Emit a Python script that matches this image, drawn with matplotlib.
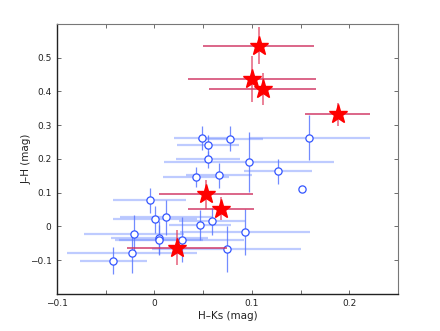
import numpy as np
import matplotlib
matplotlib.use("Agg")
import matplotlib.pyplot as plt
import matplotlib.ticker as mticker

plt.rcParams['font.family'] = 'DejaVu Sans'

# field stars (open circles): H-Ks, J-H and their errors
field_hk = [0.049, 0.078, 0.055, 0.055, 0.097, 0.159, 0.127, 0.151, 0.066, 0.043,
            -0.005, 0.001, 0.012, 0.047, 0.059, -0.021, 0.005, 0.005, 0.028, 0.093,
            0.074, -0.023, -0.042]
field_jh = [0.263, 0.260, 0.242, 0.199, 0.191, 0.263, 0.163, 0.112, 0.151, 0.147,
            0.077, 0.021, 0.027, 0.005, 0.015, -0.022, -0.033, -0.041, -0.039, -0.017,
            -0.066, -0.079, -0.102]
field_hk_err = [0.029, 0.033, 0.032, 0.033, 0.087, 0.062, 0.035, 0.0, 0.034, 0.034,
                0.037, 0.043, 0.047, 0.032, 0.034, 0.051, 0.050, 0.045, 0.064, 0.067,
                0.076, 0.067, 0.034]
field_jh_err = [0.035, 0.037, 0.030, 0.026, 0.088, 0.067, 0.037, 0.0, 0.038, 0.030,
                0.038, 0.040, 0.051, 0.044, 0.039, 0.057, 0.050, 0.044, 0.067, 0.068,
                0.068, 0.060, 0.040]

# target stars (red stars)
target_hk = [0.107, 0.100, 0.111, 0.188, 0.053, 0.068, 0.023]
target_jh = [0.535, 0.438, 0.407, 0.332, 0.095, 0.052, -0.063]
target_hk_err = [0.057, 0.066, 0.055, 0.033, 0.048, 0.034, 0.051]
target_jh_err = [0.055, 0.068, 0.048, 0.034, 0.044, 0.034, 0.052]

fig = plt.figure(figsize=(4.4, 3.31), dpi=100)
ax = fig.add_axes([0.1295, 0.112, 0.775, 0.8155])

# field stars: light wide horizontal bars, thinner vertical bars
ax.errorbar(field_hk, field_jh, xerr=field_hk_err, fmt='none',
            ecolor='#6f8cff', elinewidth=1.6, alpha=0.45, capsize=0, zorder=2)
ax.errorbar(field_hk, field_jh, yerr=field_jh_err, fmt='none',
            ecolor='#5a78ff', elinewidth=0.9, alpha=0.85, capsize=0, zorder=2)
ax.plot(field_hk, field_jh, 'o', ms=5.2, mfc='white', mec='#3355ff', mew=0.9, zorder=3)

# target stars
ax.errorbar(target_hk, target_jh, xerr=target_hk_err, fmt='none',
            ecolor='#d03060', elinewidth=1.3, alpha=0.8, capsize=0, zorder=4)
ax.errorbar(target_hk, target_jh, yerr=target_jh_err, fmt='none',
            ecolor='#e04060', elinewidth=1.3, alpha=0.7, capsize=0, zorder=4)
ax.plot(target_hk, target_jh, '*', ms=14, color='red', mec='red', zorder=5)

ax.set_xlim(-0.1, 0.25)
ax.set_ylim(-0.2, 0.6)
ax.set_xticks([-0.1, 0, 0.1, 0.2])
ax.xaxis.set_minor_locator(mticker.MultipleLocator(0.05))
ax.set_yticks([-0.1, 0, 0.1, 0.2, 0.3, 0.4, 0.5])
fmt = mticker.FuncFormatter(lambda v, _: '0' if abs(v) < 1e-9 else f'{v:g}'.replace('-', '\u2212'))
ax.xaxis.set_major_formatter(fmt)
ax.yaxis.set_major_formatter(fmt)
ax.tick_params(which='both', direction='in', top=True, right=True, length=3,
               width=0.6, labelsize=6.5, colors='#555555', labelcolor='#222222', pad=4)

for side in ['left', 'bottom']:
    ax.spines[side].set_color('#222222')
    ax.spines[side].set_linewidth(1.0)
for side in ['top', 'right']:
    ax.spines[side].set_color('#777777')
    ax.spines[side].set_linewidth(0.8)

ax.set_xlabel('H\u2013Ks (mag)', fontsize=7.5, color='#222222', labelpad=2)
ax.set_ylabel('J\u2013H (mag)', fontsize=7.5, color='#222222', labelpad=0)
ax.yaxis.set_label_coords(-0.075, 0.5)

fig.savefig('out.png', dpi=100)
